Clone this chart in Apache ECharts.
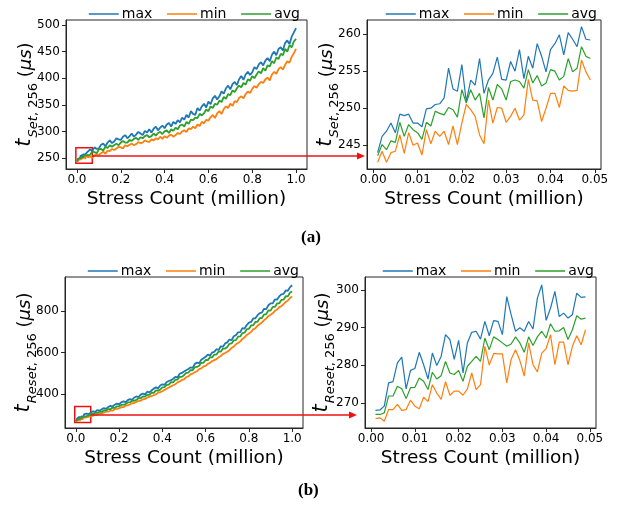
<!DOCTYPE html>
<html>
<head>
<meta charset="utf-8">
<script src="https://cdn.jsdelivr.net/npm/echarts@6/dist/echarts.min.js"></script>
<style>
  html, body { margin: 0; padding: 0; background: #fff; }
  #chart { width: 629px; height: 508px; }
</style>
</head>
<body>
<div id="chart"></div>
<script>
// stress count (million) for the zoomed views and for the rest of the full run
var zoomX = [0.001, 0.002, 0.003, 0.004, 0.005, 0.006, 0.007, 0.008, 0.009, 0.010,
  0.011, 0.012, 0.013, 0.014, 0.015, 0.016, 0.017, 0.018, 0.019, 0.020,
  0.021, 0.022, 0.023, 0.024, 0.025, 0.026, 0.027, 0.028, 0.029, 0.030,
  0.031, 0.032, 0.033, 0.034, 0.035, 0.036, 0.037, 0.038, 0.039, 0.040,
  0.041, 0.042, 0.043, 0.044, 0.045, 0.046, 0.047, 0.048, 0.049];
var restX = [0.05, 0.06, 0.07, 0.08, 0.09, 0.10, 0.11, 0.12, 0.13, 0.14,
  0.15, 0.16, 0.17, 0.18, 0.19, 0.20, 0.21, 0.22, 0.23, 0.24,
  0.25, 0.26, 0.27, 0.28, 0.29, 0.30, 0.31, 0.32, 0.33, 0.34,
  0.35, 0.36, 0.37, 0.38, 0.39, 0.40, 0.41, 0.42, 0.43, 0.44,
  0.45, 0.46, 0.47, 0.48, 0.49, 0.50, 0.51, 0.52, 0.53, 0.54,
  0.55, 0.56, 0.57, 0.58, 0.59, 0.60, 0.61, 0.62, 0.63, 0.64,
  0.65, 0.66, 0.67, 0.68, 0.69, 0.70, 0.71, 0.72, 0.73, 0.74,
  0.75, 0.76, 0.77, 0.78, 0.79, 0.80, 0.81, 0.82, 0.83, 0.84,
  0.85, 0.86, 0.87, 0.88, 0.89, 0.90, 0.91, 0.92, 0.93, 0.94,
  0.95, 0.96, 0.97, 0.98, 0.99, 1.00];

// (a) t_Set,256 - first 0.05 million
var setMaxZoom = [244.0, 246.2, 246.9, 248.0, 246.7, 249.2, 249.0, 249.2, 248.0, 248.0,
  247.5, 249.9, 250.0, 250.5, 250.6, 251.4, 255.4, 252.6, 252.3, 255.9,
  250.9, 253.8, 253.1, 256.7, 252.0, 253.8, 254.7, 256.9, 253.9, 253.8,
  256.3, 255.0, 257.9, 254.0, 257.0, 255.4, 258.7, 257.0, 254.9, 257.9,
  258.7, 259.9, 257.2, 260.2, 259.3, 258.3, 261.0, 259.3, 259.2];
var setMinZoom = [242.7, 244.2, 242.7, 244.0, 244.2, 246.4, 243.9, 246.7, 245.0, 245.3,
  243.7, 247.1, 245.2, 246.9, 246.2, 246.9, 245.1, 247.6, 245.1, 248.0,
  250.5, 249.8, 248.9, 246.4, 245.2, 251.1, 248.0, 250.1, 250.0, 248.1,
  248.9, 250.0, 248.4, 249.1, 253.9, 251.1, 251.0, 248.2, 250.0, 252.0,
  252.0, 250.1, 253.0, 252.4, 252.3, 252.4, 256.5, 254.9, 253.8];
var setAvgZoom = [243.6, 245.1, 244.4, 245.6, 245.4, 248.1, 246.2, 247.8, 247.1, 246.7,
  245.8, 248.1, 247.6, 249.6, 249.3, 249.1, 250.1, 249.8, 248.8, 252.5,
  250.7, 252.5, 251.1, 252.0, 248.7, 252.8, 251.1, 253.2, 252.6, 251.1,
  253.6, 253.8, 253.6, 252.7, 255.2, 253.4, 254.4, 253.0, 253.4, 255.2,
  255.0, 253.8, 254.3, 256.7, 254.9, 255.4, 258.3, 257.0, 256.7];

// (a) t_Set,256 - remainder of the run
var setMaxRest = [262, 266, 263, 270, 267, 268, 275, 277, 272, 279,
  283, 278, 281, 287, 285, 284, 290, 293, 287, 291,
  296, 290, 294, 299, 296, 293, 301, 298, 304, 298,
  305, 309, 302, 307, 311, 306, 313, 316, 309, 318,
  314, 321, 317, 326, 322, 331, 326, 338, 333, 331,
  344, 339, 347, 352, 345, 356, 351, 362, 367, 360,
  366, 375, 371, 381, 386, 379, 389, 393, 387, 398,
  404, 397, 407, 412, 406, 411, 421, 417, 426, 430,
  424, 433, 438, 432, 444, 450, 443, 455, 458, 452,
  466, 471, 464, 478, 486, 494];
var setMinRest = [251, 253, 250, 255, 257, 256, 259, 262, 258, 264,
  263, 267, 265, 268, 271, 270, 268, 274, 272, 275,
  277, 274, 276, 280, 278, 279, 283, 281, 280, 285,
  283, 287, 285, 290, 286, 291, 288, 292, 294, 290,
  293, 297, 295, 300, 302, 299, 306, 304, 309, 306,
  313, 310, 318, 315, 322, 320, 327, 331, 325, 334,
  338, 333, 342, 347, 344, 352, 348, 357, 355, 363,
  366, 362, 370, 375, 372, 380, 385, 382, 389, 393,
  391, 398, 401, 396, 407, 412, 408, 417, 421, 416,
  425, 432, 429, 440, 447, 455];
var setAvgRest = [257, 256, 262, 261, 259, 266, 267, 264, 271, 269,
  274, 271, 274, 277, 274, 279, 282, 279, 279, 284,
  282, 286, 288, 284, 289, 287, 291, 293, 289, 291,
  296, 292, 297, 299, 295, 300, 302, 297, 304, 301,
  307, 304, 311, 313, 309, 318, 314, 322, 321, 326,
  325, 333, 330, 334, 341, 338, 347, 344, 352, 350,
  358, 355, 365, 361, 370, 368, 377, 374, 381, 386,
  383, 391, 388, 398, 395, 404, 400, 407, 413, 409,
  419, 414, 424, 422, 432, 428, 439, 436, 446, 443,
  455, 450, 462, 458, 469, 474];

// (b) t_Reset,256 - first 0.05 million
var resetMaxZoom = [268.0, 268.1, 269.1, 275.3, 275.6, 280.6, 282.1, 273.7, 278.6, 279.1,
  283.4, 280.1, 276.3, 283.2, 279.9, 282.3, 288.1, 286.8, 281.5, 286.6,
  277.9, 285.9, 288.7, 289.0, 286.9, 291.6, 287.8, 291.8, 291.6, 288.1,
  298.2, 293.4, 289.0, 289.9, 289.0, 291.6, 289.6, 297.8, 301.3, 291.9,
  295.1, 299.6, 292.9, 293.8, 292.5, 293.4, 299.1, 298.0, 298.1];
var resetMinZoom = [265.8, 266.0, 265.1, 268.2, 268.2, 269.6, 268.0, 268.2, 270.7, 269.1,
  268.4, 271.5, 270.3, 274.8, 272.6, 270.9, 275.6, 272.0, 273.1, 273.1,
  272.0, 273.7, 277.9, 273.5, 274.8, 285.0, 280.0, 283.1, 283.0, 283.0,
  275.3, 281.5, 284.1, 281.2, 277.1, 285.9, 280.1, 278.2, 283.2, 284.4,
  288.1, 280.1, 286.1, 286.1, 280.1, 285.0, 287.8, 285.4, 289.4];
var resetAvgZoom = [266.9, 266.9, 267.3, 271.8, 271.8, 274.4, 273.7, 271.1, 274.0, 274.1,
  276.6, 275.7, 273.5, 278.1, 276.3, 277.2, 281.0, 277.9, 277.5, 278.6,
  275.7, 279.7, 281.0, 282.3, 281.0, 287.2, 284.1, 287.5, 286.8, 285.9,
  285.0, 285.6, 287.5, 285.9, 283.4, 287.5, 285.2, 287.5, 289.0, 287.2,
  291.0, 289.0, 289.1, 290.0, 286.8, 289.4, 293.1, 292.2, 292.5];

// (b) t_Reset,256 - remainder of the run
var resetMaxRest = [304, 301, 309, 315, 312, 321, 318, 325, 331, 327,
  336, 341, 338, 347, 352, 349, 358, 363, 359, 369,
  374, 370, 382, 387, 383, 396, 401, 397, 410, 407,
  416, 425, 431, 426, 440, 446, 443, 457, 462, 466,
  473, 482, 479, 497, 501, 508, 514, 520, 528, 525,
  545, 551, 548, 565, 572, 579, 590, 584, 600, 603,
  616, 612, 630, 628, 644, 649, 663, 660, 679, 684,
  698, 699, 718, 716, 733, 745, 748, 765, 766, 781,
  791, 793, 812, 810, 829, 838, 838, 857, 856, 872,
  882, 884, 901, 899, 917, 926];
var resetMinRest = [284, 289, 290, 294, 299, 298, 304, 304, 309, 314,
  313, 319, 318, 326, 327, 329, 335, 335, 343, 344,
  348, 354, 355, 361, 365, 366, 373, 375, 381, 386,
  388, 393, 397, 405, 408, 412, 419, 424, 430, 436,
  441, 446, 455, 460, 467, 470, 480, 484, 494, 498,
  504, 509, 519, 523, 533, 535, 545, 550, 558, 563,
  568, 577, 583, 593, 597, 604, 611, 622, 629, 640,
  646, 654, 666, 673, 685, 692, 700, 712, 718, 730,
  738, 745, 757, 765, 776, 783, 790, 802, 808, 820,
  825, 834, 845, 852, 864, 872];
var resetAvgRest = [293, 295, 301, 302, 308, 307, 313, 312, 320, 319,
  326, 325, 333, 331, 339, 339, 346, 347, 350, 358,
  358, 367, 366, 370, 379, 378, 387, 386, 396, 395,
  405, 404, 416, 415, 420, 431, 432, 443, 444, 456,
  455, 468, 469, 482, 482, 490, 501, 502, 515, 514,
  529, 530, 536, 550, 550, 564, 563, 577, 576, 590,
  590, 605, 604, 619, 619, 627, 642, 644, 659, 660,
  677, 678, 694, 696, 713, 715, 731, 732, 748, 749,
  766, 767, 784, 786, 804, 803, 821, 821, 838, 838,
  855, 856, 873, 872, 891, 896];

// tick labels
var fullXTicks = [0, 0.2, 0.4, 0.6, 0.8, 1.0];
var zoomXTicks = [0, 0.01, 0.02, 0.03, 0.04, 0.05];
var setFullYTicks = [250, 300, 350, 400, 450, 500];
var setZoomYTicks = [245, 250, 255, 260];
var resetFullYTicks = [400, 600, 800];
var resetZoomYTicks = [270, 280, 290, 300];

var names = ['max', 'min', 'avg'];
var colors = ['#1f77b4', '#ff7f0e', '#2ca02c'];
var FONT = 'DejaVu Sans';
var AXC = '#262626';

function pairs(xs, ys) {
  return xs.map(function (x, i) { return [x, ys[i]]; });
}

function xAxisOf(grid, min, max, ticks, digits) {
  return {
    type: 'value', gridIndex: grid, min: min, max: max,
    name: 'Stress Count (million)', nameLocation: 'middle', nameGap: 21,
    nameTextStyle: { fontFamily: FONT, fontSize: 18.5, color: '#000' },
    axisLine: { show: true, onZero: false, lineStyle: { color: AXC } },
    axisTick: { show: true, length: 4, customValues: ticks, lineStyle: { color: AXC } },
    axisLabel: {
      customValues: ticks, margin: 5, fontFamily: FONT, fontSize: 12, color: '#000',
      formatter: function (v) { return v.toFixed(digits); }
    },
    splitLine: { show: false }
  };
}

function yAxisOf(grid, min, max, ticks, sub, gap) {
  var big = { fontFamily: FONT, fontSize: 18, color: '#000', verticalAlign: 'bottom', padding: [0, 0, 5, 0] };
  var small = { fontFamily: FONT, fontSize: 13, color: '#000', verticalAlign: 'bottom' };
  return {
    type: 'value', gridIndex: grid, min: min, max: max,
    name: '{t|t}{s|' + sub + '}{n|, 256}{g| }{p|(}{m|μs}{p|)}',
    nameLocation: 'middle', nameGap: gap, nameRotate: 90, nameMoveOverlap: false,
    nameTextStyle: {
      fontFamily: FONT, color: '#000',
      rich: {
        t: Object.assign({}, big, { fontSize: 21, fontStyle: 'italic' }),
        s: Object.assign({}, small, { fontStyle: 'italic', padding: [0, 0, 0, 1] }),
        n: Object.assign({}, small),
        g: Object.assign({}, big),
        p: Object.assign({}, big),
        m: Object.assign({}, big, { fontStyle: 'italic' })
      }
    },
    axisLine: { show: true, onZero: false, lineStyle: { color: AXC } },
    axisTick: { show: true, length: 4, customValues: ticks, lineStyle: { color: AXC } },
    axisLabel: { customValues: ticks, margin: 6, fontFamily: FONT, fontSize: 12, color: '#000' },
    splitLine: { show: false }
  };
}

function seriesOf(idx, xs, ys, width, box) {
  var s = {
    type: 'line', name: names[idx % 3], xAxisIndex: Math.floor(idx / 3), yAxisIndex: Math.floor(idx / 3),
    data: pairs(xs, ys), symbol: 'none', animation: false,
    lineStyle: { width: width, color: colors[idx % 3] },
    itemStyle: { color: colors[idx % 3] }
  };
  if (box) {
    s.markArea = {
      silent: true,
      itemStyle: { color: 'rgba(0,0,0,0)', borderColor: '#ee1111', borderWidth: 1.5 },
      data: [box]
    };
  }
  return s;
}

function legendOf(left, top) {
  return {
    data: names, left: left, top: top, itemWidth: 30, itemHeight: 14, itemGap: 14,
    selectedMode: false,
    itemStyle: { opacity: 0, borderWidth: 0 },
    lineStyle: { width: 1.5 },
    textStyle: { fontFamily: FONT, fontSize: 14, color: '#000', padding: [0, 0, 0, -2] }
  };
}

var fullX = zoomX.concat(restX);
var setBox = [{ xAxis: -0.005, yAxis: 240 }, { xAxis: 0.07, yAxis: 269.4 }];
var resetBox = [{ xAxis: -0.005, yAxis: 261 }, { xAxis: 0.069, yAxis: 338.5 }];

var chart = echarts.init(document.getElementById('chart'), null, { renderer: 'canvas' });
var option = {
  backgroundColor: '#ffffff',
  animation: false,
  legend: [legendOf(83, 2), legendOf(380, 2), legendOf(82, 259), legendOf(377, 259)],
  grid: [
    { left: 66, top: 20, width: 241, height: 149, show: true, borderColor: AXC, borderWidth: 1 },
    { left: 367, top: 20, width: 234, height: 149, show: true, borderColor: AXC, borderWidth: 1 },
    { left: 65, top: 277, width: 238, height: 151, show: true, borderColor: AXC, borderWidth: 1 },
    { left: 365, top: 277, width: 231, height: 151, show: true, borderColor: AXC, borderWidth: 1 }
  ],
  xAxis: [
    xAxisOf(0, -0.05, 1.05, fullXTicks, 1),
    xAxisOf(1, -0.0014, 0.0514, zoomXTicks, 2),
    xAxisOf(2, -0.05, 1.05, fullXTicks, 1),
    xAxisOf(3, -0.0014, 0.0514, zoomXTicks, 2)
  ],
  yAxis: [
    yAxisOf(0, 229.3, 509.4, setFullYTicks, 'Set', 26),
    yAxisOf(1, 241.8, 261.9, setZoomYTicks, 'Set', 26),
    yAxisOf(2, 234, 966, resetFullYTicks, 'Reset', 26),
    yAxisOf(3, 263.3, 303.4, resetZoomYTicks, 'Reset', 28)
  ],
  series: [
    seriesOf(0, fullX, setMaxZoom.concat(setMaxRest), 1.8, setBox),
    seriesOf(1, fullX, setMinZoom.concat(setMinRest), 1.8),
    seriesOf(2, fullX, setAvgZoom.concat(setAvgRest), 1.8),
    seriesOf(3, zoomX, setMaxZoom, 1.2),
    seriesOf(4, zoomX, setMinZoom, 1.2),
    seriesOf(5, zoomX, setAvgZoom, 1.2),
    seriesOf(6, fullX, resetMaxZoom.concat(resetMaxRest), 1.8, resetBox),
    seriesOf(7, fullX, resetMinZoom.concat(resetMinRest), 1.8),
    seriesOf(8, fullX, resetAvgZoom.concat(resetAvgRest), 1.8),
    seriesOf(9, zoomX, resetMaxZoom, 1.2),
    seriesOf(10, zoomX, resetMinZoom, 1.2),
    seriesOf(11, zoomX, resetAvgZoom, 1.2)
  ],
  graphic: [
    // zoom arrows
    { type: 'line', shape: { x1: 92, y1: 156, x2: 358, y2: 156 }, style: { stroke: '#ee1111', lineWidth: 1.5 }, z: 100 },
    { type: 'polygon', shape: { points: [[357, 152.5], [365, 156], [357, 159.5]] }, style: { fill: '#ee1111' }, z: 100 },
    { type: 'line', shape: { x1: 91, y1: 415, x2: 350, y2: 415 }, style: { stroke: '#ee1111', lineWidth: 1.5 }, z: 100 },
    { type: 'polygon', shape: { points: [[349, 411.5], [357, 415], [349, 418.5]] }, style: { fill: '#ee1111' }, z: 100 },
    // sub-figure captions
    { type: 'text', left: 301, top: 229, style: { text: '(a)', font: 'bold 17px "Liberation Serif"', fill: '#000' } },
    { type: 'text', left: 298, top: 482, style: { text: '(b)', font: 'bold 17px "Liberation Serif"', fill: '#000' } }
  ]
};
chart.setOption(option);
</script>
</body>
</html>
